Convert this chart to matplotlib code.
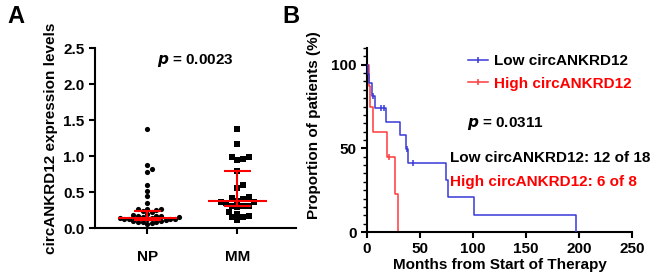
import numpy as np
import matplotlib
matplotlib.use("Agg")
import matplotlib.pyplot as plt
from matplotlib.lines import Line2D

plt.rcParams['font.family'] = ['Liberation Sans', 'DejaVu Sans']
plt.rcParams['font.weight'] = 'bold'
plt.rcParams['axes.labelweight'] = 'bold'

# ---------------- data ----------------
groups = ["NP", "MM"]
np_vals = [1.37, 0.88, 0.82, 0.78, 0.60, 0.52, 0.44, 0.35, 0.27, 0.27, 0.26, 0.25,
           0.24, 0.22, 0.20, 0.18, 0.17, 0.16, 0.16, 0.15, 0.15, 0.14, 0.14, 0.13,
           0.13, 0.13, 0.12, 0.12, 0.11, 0.10, 0.10, 0.09, 0.09, 0.08, 0.07, 0.06]
mm_vals = [1.38, 1.17, 0.99, 0.98, 0.96, 0.95, 0.79, 0.60, 0.55, 0.43, 0.42, 0.40,
           0.38, 0.36, 0.36, 0.35, 0.31, 0.30, 0.30, 0.29, 0.22, 0.20, 0.16, 0.15,
           0.15, 0.11]
medians = [0.14, 0.38]
q1 = [0.11, 0.30]
q3 = [0.23, 0.79]
pA = "0.0023"

low_t = [0, 1, 2, 4.5, 7.5, 18, 31, 37, 38.5, 75, 76.5, 101, 197]
low_s = [100, 94.4, 88.9, 81.5, 74.1, 66.0, 57.8, 49.5, 41.3, 31.0, 20.7, 10.3, 0]
low_cens = [5.5, 13, 16.5, 37.7, 43]
high_t = [0, 1.5, 3, 6, 19, 26.5, 29.5]
high_s = [100, 87.5, 75, 60, 45, 22.5, 0]
high_cens = [21]
pB = "0.0311"
low_label = "Low circANKRD12"
high_label = "High circANKRD12"
low_count = "Low circANKRD12: 12 of 18"
high_count = "High circANKRD12: 6 of 8"

BLUE = "#3838d8"
RED = "#ff3b3b"

fig = plt.figure(figsize=(6.55, 2.77), dpi=100)
W, H = 655, 277

def ax_rect(l, r, t, b):
    return [l / W, 1 - b / H, (r - l) / W, (b - t) / H]

# ---------------- panel A ----------------
axA = fig.add_axes(ax_rect(95, 296, 48, 228))
xlimA = (-0.58, 1.65)
ylimA = (0, 2.5)
px_per_x = (296 - 95) / (xlimA[1] - xlimA[0])
px_per_y = (228 - 48) / (ylimA[1] - ylimA[0])

def swarm(vals, diam=4.6):
    order = np.argsort(vals)
    placed = []
    xs = np.zeros(len(vals))
    for i in order:
        ypx = vals[i] * px_per_y
        cands = [0]
        for j in range(1, 60):
            cands += [j * diam * 0.5, -j * diam * 0.5]
        for c in cands:
            if all((c - px) ** 2 + (ypx - py) ** 2 >= diam ** 2 for px, py in placed):
                placed.append((c, ypx))
                xs[i] = c / px_per_x
                break
    return xs

for gi, (vals, mk) in enumerate([(np_vals, 'o'), (mm_vals, 's')]):
    vals = np.array(vals)
    xo = swarm(vals, 4.6 if mk == 'o' else 5.6)
    axA.scatter(gi + xo, vals, marker=mk, s=14, color='black', zorder=2, linewidths=0)
    axA.hlines(medians[gi], gi - 0.33, gi + 0.33, color='red', lw=1.5, zorder=3)
    axA.hlines([q1[gi], q3[gi]], gi - 0.15, gi + 0.15, color='red', lw=1.5, zorder=3)
    axA.vlines(gi, q1[gi], q3[gi], color='red', lw=1.5, zorder=3)

axA.set_xlim(*xlimA)
axA.set_ylim(*ylimA)
axA.set_xticks([0, 1])
axA.set_xticklabels(groups)
axA.set_yticks([0, 0.5, 1.0, 1.5, 2.0, 2.5])
axA.set_yticklabels(["0.0", "0.5", "1.0", "1.5", "2.0", "2.5"])
axA.set_ylabel("circANKRD12 expression levels", fontsize=11, labelpad=4)
for s in ['top', 'right']:
    axA.spines[s].set_visible(False)
for s in ['left', 'bottom']:
    axA.spines[s].set_linewidth(1.5)
axA.tick_params(axis='both', width=1.5, length=4, labelsize=11)
axA.tick_params(axis='x', pad=12)
axA.text(0.5, 0.93, "$\\boldsymbol{p}$ = " + pA, transform=axA.transAxes,
         ha='center', va='center', fontsize=11, fontweight='bold')
fig.text(7 / W, 1 - 5 / H, "A", fontsize=17, fontweight='bold', va='top', ha='left')

# ---------------- panel B ----------------
axB = fig.add_axes(ax_rect(367, 632, 48, 232))

def step_val(t, ts, ss):
    idx = np.searchsorted(ts, t, side='right') - 1
    return np.array(ss)[idx]

axB.step(low_t, low_s, where='post', color=BLUE, lw=1.1, zorder=3)
axB.step(high_t, high_s, where='post', color=RED, lw=1.1, zorder=2)
axB.plot(low_cens, step_val(low_cens, low_t, low_s), ls='none', marker='|',
         ms=5, mew=1.1, color=BLUE, zorder=3)
axB.plot(high_cens, step_val(high_cens, high_t, high_s), ls='none', marker='|',
         ms=5, mew=1.1, color=RED, zorder=2)

axB.set_xlim(0, 250)
axB.set_ylim(0, 110)
axB.set_xticks([0, 50, 100, 150, 200, 250])
axB.set_yticks([0, 50, 100])
axB.set_yticks(np.arange(0, 111, 5), minor=True)
for s in ['top', 'right']:
    axB.spines[s].set_visible(False)
for s in ['left', 'bottom']:
    axB.spines[s].set_linewidth(1.5)
axB.tick_params(axis='both', width=1.5, length=4, labelsize=11)
axB.tick_params(axis='y', which='minor', width=1.0, length=3)
axB.set_xlabel("Months from Start of Therapy", fontsize=11, labelpad=1)
axB.set_ylabel("Proportion of patients (%)", fontsize=11)
axB.yaxis.set_label_coords(-0.175, 0.58)

handles = [Line2D([], [], color=BLUE, lw=1.1, marker='|', ms=5, mew=1.1),
           Line2D([], [], color=RED, lw=1.1, marker='|', ms=5, mew=1.1)]
leg = axB.legend(handles, [low_label, high_label], loc='upper left',
                 bbox_to_anchor=(0.33, 1.04), frameon=False, fontsize=11,
                 handlelength=1.3, handletextpad=0.4, labelspacing=0.55)
leg.get_texts()[0].set_color('black')
leg.get_texts()[1].set_color('red')

axB.text(467 / W, 1 - 123 / H, "$\\boldsymbol{p}$ = " + pB, transform=fig.transFigure,
         ha='left', va='center', fontsize=11, fontweight='bold')
axB.text(450 / W, 1 - 158 / H, low_count, transform=fig.transFigure,
         ha='left', va='center', fontsize=11, fontweight='bold', color='black')
axB.text(450 / W, 1 - 182 / H, high_count, transform=fig.transFigure,
         ha='left', va='center', fontsize=11, fontweight='bold', color='red')
fig.text(282 / W, 1 - 5 / H, "B", fontsize=17, fontweight='bold', va='top', ha='left')

fig.savefig("out.png", dpi=100)
